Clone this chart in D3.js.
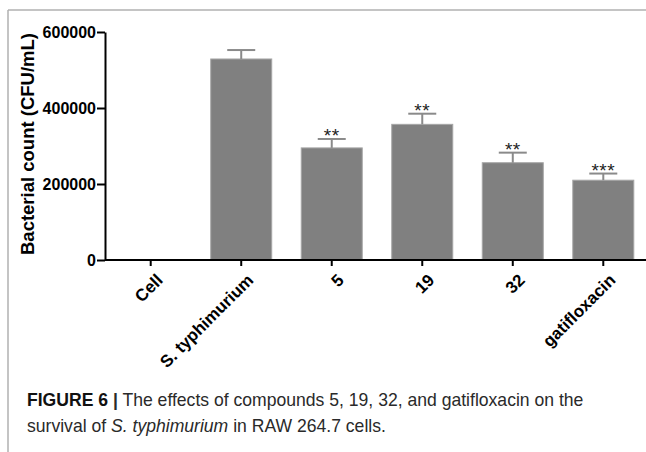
<!DOCTYPE html>
<meta charset="utf-8">
<style>
  body { margin: 0; background: #fff; }
  svg text { font-family: "Liberation Sans", Arial, sans-serif; }
  .axis path, .axis line { stroke: #000; stroke-width: 2px; }
  .bar { fill: #808080; stroke: #a6a6a6; stroke-width: 1px; }
  .err { stroke: #8a8a8a; stroke-width: 2px; fill: none; }
</style>
<body>
<div id="chart"></div>
<script src="https://d3js.org/d3.v7.min.js"></script>
<script>

// data
var groups = ["Cell", "S. typhimurium", "5", "19", "32", "gatifloxacin"];
var counts = [0, 529000, 295000, 357000, 256000, 210000];
var sem    = [0, 23500, 23500, 28000, 26500, 17500];
var stars  = ["", "", "**", "**", "**", "***"];
var yTicks = [0, 200000, 400000, 600000];

var W = 646, H = 452;

var svg = d3.select("#chart").append("svg")
    .attr("width", W)
    .attr("height", H);

// frame lines of the figure panel
svg.append("line").attr("x1", 8).attr("x2", 8).attr("y1", 10).attr("y2", H)
    .attr("stroke", "#b0b0b0").attr("stroke-width", 1.5);
svg.append("line").attr("x1", 8).attr("x2", W).attr("y1", 10).attr("y2", 10)
    .attr("stroke", "#b0b0b0").attr("stroke-width", 1.5);

var x = d3.scaleBand().domain(groups).range([105, 649])
    .paddingInner(0.326).paddingOuter(0.168);
var y = d3.scaleLinear().domain([0, 600000]).range([260, 32]);

// bars
svg.selectAll(".bar")
  .data(groups)
  .enter().append("rect")
    .attr("class", "bar")
    .attr("x", function(d) { return x(d); })
    .attr("width", x.bandwidth())
    .attr("y", function(d, i) { return y(counts[i]); })
    .attr("height", function(d, i) { return y(0) - y(counts[i]); })
    .style("display", function(d, i) { return counts[i] > 0 ? null : "none"; });

// error bars (upper only)
var eb = svg.append("g");
groups.forEach(function(g, i) {
  if (!counts[i]) return;
  var cx = x(g) + x.bandwidth() / 2;
  var top = y(counts[i] + sem[i]);
  eb.append("line").attr("class", "err")
    .attr("x1", cx).attr("x2", cx).attr("y1", y(counts[i])).attr("y2", top);
  eb.append("line").attr("class", "err")
    .attr("x1", cx - 14).attr("x2", cx + 14).attr("y1", top).attr("y2", top);
  if (stars[i]) {
    svg.append("text")
      .attr("x", cx)
      .attr("y", top + 3)
      .attr("text-anchor", "middle")
      .attr("font-size", "19px")
      .attr("letter-spacing", "0.5px")
      .attr("fill", "#222")
      .text(stars[i]);
  }
});

// y axis
var gy = svg.append("g")
    .attr("class", "axis")
    .attr("transform", "translate(105,0)")
    .call(d3.axisLeft(y).tickValues(yTicks).tickSize(8).tickSizeOuter(0).tickFormat(d3.format("d")));
gy.selectAll("text")
    .attr("font-size", "16px")
    .attr("font-weight", "bold")
    .attr("fill", "#000")
    .attr("x", -9);

// x axis
var gx = svg.append("g")
    .attr("class", "axis")
    .attr("transform", "translate(0,260)")
    .call(d3.axisBottom(x).tickSize(6).tickSizeOuter(0));
gx.select(".domain").attr("d", "M105,0H646");
gx.selectAll("text")
    .attr("font-size", "17px")
    .attr("font-weight", "bold")
    .attr("fill", "#000")
    .attr("text-anchor", "end")
    .attr("dy", "0.35em")
    .attr("transform", "translate(9,17) rotate(-45)")
    .attr("x", 0).attr("y", 0);

// y axis title
svg.append("text")
    .attr("transform", "translate(34,144) rotate(-90)")
    .attr("text-anchor", "middle")
    .attr("font-size", "18.5px")
    .attr("font-weight", "bold")
    .text("Bacterial count (CFU/mL)");

// caption
var cap1 = svg.append("text")
    .attr("x", 27).attr("y", 406)
    .attr("font-size", "15px")
    .attr("fill", "#2a2a2a");
cap1.append("tspan").attr("font-weight", "bold").attr("fill", "#111").text("FIGURE 6 ");
cap1.append("tspan").attr("font-weight", "bold").text("|");
cap1.append("tspan").text(" The effects of compounds 5, 19, 32, and gatifloxacin on the");

var cap2 = svg.append("text")
    .attr("x", 27).attr("y", 432)
    .attr("font-size", "15px")
    .attr("fill", "#2a2a2a");
cap2.append("tspan").text("survival of ");
cap2.append("tspan").attr("font-style", "italic").text("S. typhimurium");
cap2.append("tspan").text(" in RAW 264.7 cells.");

// caption line 1 runs to about x=584 in the figure
var fs = 15 * 557 / cap1.node().getComputedTextLength();
cap1.attr("font-size", fs + "px");
cap2.attr("font-size", fs + "px");

</script>
</body>
